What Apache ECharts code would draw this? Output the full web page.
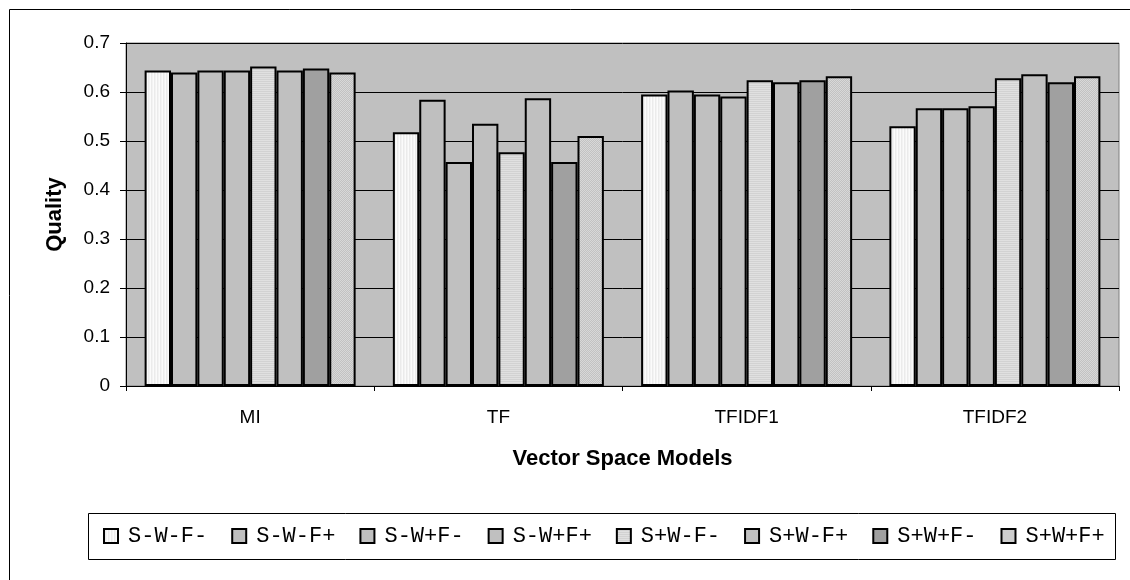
<!DOCTYPE html>
<html>
<head>
<meta charset="utf-8">
<script src="https://cdn.jsdelivr.net/npm/echarts@6/dist/echarts.min.js"></script>
<style>
html,body{margin:0;padding:0;background:#fff;}
#chart{width:1130px;height:580px;}
</style>
</head>
<body>
<div id="chart"></div>
<script>
var categories = ['MI', 'TF', 'TFIDF1', 'TFIDF2'];
var seriesNames = ['S-W-F-', 'S-W-F+', 'S-W+F-', 'S-W+F+', 'S+W-F-', 'S+W-F+', 'S+W+F-', 'S+W+F+'];
var sWFm   = [0.644, 0.518, 0.595, 0.530];
var sWFp   = [0.640, 0.584, 0.603, 0.567];
var sWpFm  = [0.644, 0.457, 0.595, 0.567];
var sWpFp  = [0.644, 0.535, 0.591, 0.571];
var spWFm  = [0.652, 0.477, 0.624, 0.628];
var spWFp  = [0.644, 0.587, 0.620, 0.636];
var spWpFm = [0.648, 0.457, 0.624, 0.620];
var spWpFp = [0.640, 0.510, 0.632, 0.632];
var seriesValues = [sWFm, sWFp, sWpFm, sWpFp, spWFm, spWFp, spWpFm, spWpFp];
var yTickLabels = ['0', '0.1', '0.2', '0.3', '0.4', '0.5', '0.6', '0.7'];

function pattern(w, h, pixels) {
  var c = document.createElement('canvas');
  c.width = w; c.height = h;
  var ctx = c.getContext('2d');
  for (var y = 0; y < h; y++) {
    for (var x = 0; x < w; x++) {
      ctx.fillStyle = pixels[y * w + x];
      ctx.fillRect(x, y, 1, 1);
    }
  }
  return { image: c, repeat: 'repeat' };
}
var fills = [
  pattern(3, 1, ['#fbfbfb', '#ebebeb', '#f3f3f3']),
  '#bfbfbf',
  '#c0c0c0',
  '#c0c0c0',
  pattern(1, 2, ['#e0e0e0', '#d2d2d2']),
  '#c0c0c0',
  '#a0a0a0',
  pattern(2, 2, ['#d8d8d8', '#c2c2c2', '#c2c2c2', '#d8d8d8'])
];

var chart = echarts.init(document.getElementById('chart'), null, { renderer: 'canvas' });
var series = seriesNames.map(function (name, i) {
  return {
    name: name,
    type: 'bar',
    data: seriesValues[i],
    barGap: '0%',
    barCategoryGap: '15%',
    itemStyle: { color: fills[i], borderColor: '#000', borderWidth: 2 },
    emphasis: { disabled: true }
  };
});

chart.setOption({
  animation: false,
  backgroundColor: '#fff',
  graphic: [
    { type: 'rect', shape: { x: 9.5, y: 9.5, width: 1130, height: 580 }, style: { fill: 'none', stroke: '#000', lineWidth: 1 }, silent: true },
    { type: 'rect', shape: { x: 88.5, y: 513.5, width: 1027, height: 46 }, style: { fill: 'none', stroke: '#000', lineWidth: 1 }, silent: true }
  ],
  grid: {
    left: 126, right: 11, top: 43, bottom: 194,
    show: true, backgroundColor: '#c0c0c0', borderColor: '#808080', borderWidth: 1
  },
  legend: {
    left: 103, top: 525,
    padding: 0,
    itemWidth: 14, itemHeight: 14, itemGap: 24,
    icon: 'rect',
    selectedMode: false,
    textStyle: { fontFamily: 'Liberation Mono', fontSize: 22, color: '#000', padding: [0, 0, 0, 5] },
    data: seriesNames
  },
  xAxis: {
    type: 'category',
    data: categories,
    name: 'Vector Space Models',
    nameLocation: 'middle',
    nameGap: 62,
    nameTextStyle: { fontFamily: 'Liberation Sans', fontWeight: 'bold', fontSize: 22, color: '#000' },
    axisLine: { lineStyle: { color: '#000', width: 1 } },
    axisTick: { show: true, length: 5, lineStyle: { color: '#000' } },
    axisLabel: { fontFamily: 'Liberation Sans', fontSize: 19, color: '#000', margin: 22 },
    splitLine: { show: false }
  },
  yAxis: {
    type: 'value',
    min: 0, max: 0.7, interval: 0.1,
    name: 'Quality',
    nameLocation: 'middle',
    nameGap: 60,
    nameRotate: 90,
    nameTextStyle: { fontFamily: 'Liberation Sans', fontWeight: 'bold', fontSize: 22, color: '#000' },
    axisLine: { show: true, lineStyle: { color: '#000', width: 1 } },
    axisTick: { show: true, length: 6, lineStyle: { color: '#000' } },
    axisLabel: {
      fontFamily: 'Liberation Sans', fontSize: 19, color: '#000', margin: 16,
      formatter: function (v) { return yTickLabels[Math.round(v * 10)]; }
    },
    splitLine: { show: true, lineStyle: { color: '#000', width: 1 } }
  },
  series: series
});
</script>
</body>
</html>
